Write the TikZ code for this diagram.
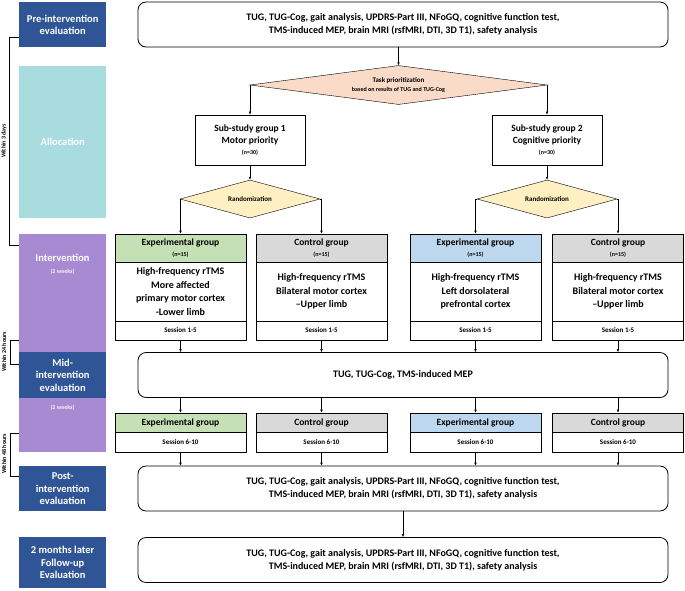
\documentclass[tikz,border=0pt]{standalone}
\usepackage{fontspec}
\setmainfont{Carlito}
\usetikzlibrary{arrows.meta,shapes.geometric}
\definecolor{darkblue}{HTML}{2F5597}
\definecolor{teal2}{HTML}{A9DCDF}
\definecolor{lila}{HTML}{A88AD2}
\definecolor{peach}{HTML}{FADBC8}
\definecolor{sand}{HTML}{FFF0C4}
\definecolor{expgreen}{HTML}{C5E0B4}
\definecolor{expblue}{HTML}{BDD7EE}
\definecolor{ctrlgray}{HTML}{D9D9D9}
\tikzset{
	phase/.style={fill=#1, text=white, font=\bfseries\fontsize{10.5}{12.5}\selectfont, align=center, inner sep=0pt, minimum width=87pt, anchor=north west},
	eval/.style={draw, thick, rounded corners=8pt, minimum width=530pt, minimum height=45pt, align=center, font=\bfseries\fontsize{10}{13}\selectfont},
	grp/.style={draw, thick, align=center, inner sep=0pt, minimum width=131pt, font=\bfseries\fontsize{9.5}{12.5}\selectfont},
	dec/.style={draw, diamond, aspect=#1, inner sep=0pt, align=center, font=\bfseries\fontsize{7}{9}\selectfont},
	arr/.style={-{Latex[length=3pt,width=2.5pt]}},
	brack/.style={thin},
	small/.style={font=\bfseries\fontsize{6}{7}\selectfont}
}
\begin{document}
\begin{tikzpicture}[x=1pt, y=-1pt]
\useasboundingbox (0,0) rectangle (685,590);
	%% Phasen links
	\node[phase=darkblue, minimum height=45pt] (pre) at (19,2) {Pre-intervention\\evaluation};
	\node[phase=teal2, minimum height=152pt] (alloc) at (19,66) {Allocation};
	\node[phase=lila, minimum height=118pt] (intv) at (19,234) {};
	\node[text=white, font=\bfseries\fontsize{10.5}{12.5}\selectfont, align=center] (intvt) at (62.5,258) {Intervention};
	\node[text=white!90!lila, small] (intvw) at (62.5,272) {(2 weeks)};
	\node[phase=darkblue, minimum height=46pt] (mid) at (19,352) {Mid-\\intervention\\evaluation};
	\node[phase=lila, minimum height=54pt] (intv2) at (19,398) {};
	\node[text=white!90!lila, small] (intvw2) at (62.5,408) {(2 weeks)};
	\node[phase=darkblue, minimum height=45pt] (post) at (19,466) {Post-\\intervention\\evaluation};
	\node[phase=darkblue, minimum height=51pt] (fu) at (19,537) {2 months later\\Follow-up\\Evaluation};

	%% Klammern
	\draw[brack] (19,37) -- (9,37) -- (9,245) -- (19,245);
	\node[small, rotate=90] (w3) at (4,141) {Within 3 days};
	\draw[brack] (19,340) -- (10,340) -- (10,364) -- (19,364);
	\node[small, rotate=90] (w24) at (4,352) {Within 24 hours};
	\draw[brack] (19,433) -- (10,433) -- (10,476) -- (19,476);
	\node[small, rotate=90] (w48) at (4,454) {Within 48 hours};

	%% Evaluationen
	\node[eval] (e1) at (403,24.5) {TUG, TUG-Cog, gait analysis, UPDRS-Part III, NFoGQ, cognitive function test,\\TMS-induced MEP, brain MRI (rsfMRI, DTI, 3D T1), safety analysis};
	\node[eval] (e2) at (403,375) {TUG, TUG-Cog, TMS-induced MEP};
	\node[eval] (e3) at (403,488.5) {TUG, TUG-Cog, gait analysis, UPDRS-Part III, NFoGQ, cognitive function test,\\TMS-induced MEP, brain MRI (rsfMRI, DTI, 3D T1), safety analysis};
	\node[eval] (e4) at (403,560) {TUG, TUG-Cog, gait analysis, UPDRS-Part III, NFoGQ, cognitive function test,\\TMS-induced MEP, brain MRI (rsfMRI, DTI, 3D T1), safety analysis};

	%% Zuteilung
	\node[dec=7.6, fill=peach, minimum width=297pt, minimum height=39pt] (task) at (398.5,85) {Task prioritization\\{\fontsize{6}{7}\selectfont based on results of TUG and TUG-Cog}};
	\node[grp, minimum width=110pt, minimum height=50pt, font=\bfseries\fontsize{9.5}{12}\selectfont] (sub1) at (250,140) {Sub-study group 1\\Motor priority\\[-1pt]{\fontsize{6}{7}\selectfont(n=30)}};
	\node[grp, minimum width=110pt, minimum height=50pt, font=\bfseries\fontsize{9.5}{12}\selectfont] (sub2) at (547,140) {Sub-study group 2\\Cognitive priority\\[-1pt]{\fontsize{6}{7}\selectfont(n=30)}};
	\node[dec=3.7, fill=sand, minimum width=140pt, minimum height=38pt] (rand1) at (250,199) {Randomization};
	\node[dec=3.7, fill=sand, minimum width=140pt, minimum height=38pt] (rand2) at (547,199) {Randomization};
	\coordinate (tl) at (250,85);
	\coordinate (tr) at (547,85);
	\draw[arr] (e1.south -| task.north) -- (task.north);
	\draw (task.west) -- (tl);
	\draw[arr] (tl) -- (sub1.north);
	\draw (task.east) -- (tr);
	\draw[arr] (tr) -- (sub2.north);
	\draw[arr] (sub1) -- (rand1);
	\draw[arr] (sub2) -- (rand2);

	%% Gruppen
	\foreach \n/\x/\c/\t/\b in {
		a/180.5/expgreen/Experimental group/{High-frequency rTMS\\More affected\\primary motor cortex\\-Lower limb},
		b/321.5/ctrlgray/Control group/{High-frequency rTMS\\Bilateral motor cortex\\--Upper limb},
		c/475.5/expblue/Experimental group/{High-frequency rTMS\\Left dorsolateral\\prefrontal cortex},
		d/618/ctrlgray/Control group/{High-frequency rTMS\\Bilateral motor cortex\\--Upper limb}}{
		\node[grp, fill=\c, minimum height=28pt] (h\n) at (\x,248) {\t\\[-2pt]{\fontsize{6}{7}\selectfont(n=15)}};
		\node[grp, minimum height=59pt, font=\bfseries\fontsize{10}{13.5}\selectfont] (m\n) at (\x,291.5) {\b};
		\node[grp, minimum height=19pt, font=\bfseries\fontsize{7}{8}\selectfont] (f\n) at (\x,330.5) {Session 1-5};
		\node[grp, fill=\c, minimum height=19pt] (g\n) at (\x,422.5) {\t};
		\node[grp, minimum height=20pt, font=\bfseries\fontsize{7}{8}\selectfont] (s\n) at (\x,442) {Session 6-10};
		\draw[arr] (f\n) -- (f\n |- e2.north);
		\draw[arr] (e2.south -| g\n) -- (g\n);
		\draw[arr] (s\n) -- (s\n |- e3.north);
	}
	\foreach \r/\a/\b in {rand1/a/b, rand2/c/d}{
		\draw (\r.west) -- (\r.west -| h\a);
		\draw[arr] (\r.west -| h\a) -- (h\a);
		\draw (\r.east) -- (\r.east -| h\b);
		\draw[arr] (\r.east -| h\b) -- (h\b);
	}
	\draw[arr] (e3) -- (e4);
\end{tikzpicture}
\end{document}
